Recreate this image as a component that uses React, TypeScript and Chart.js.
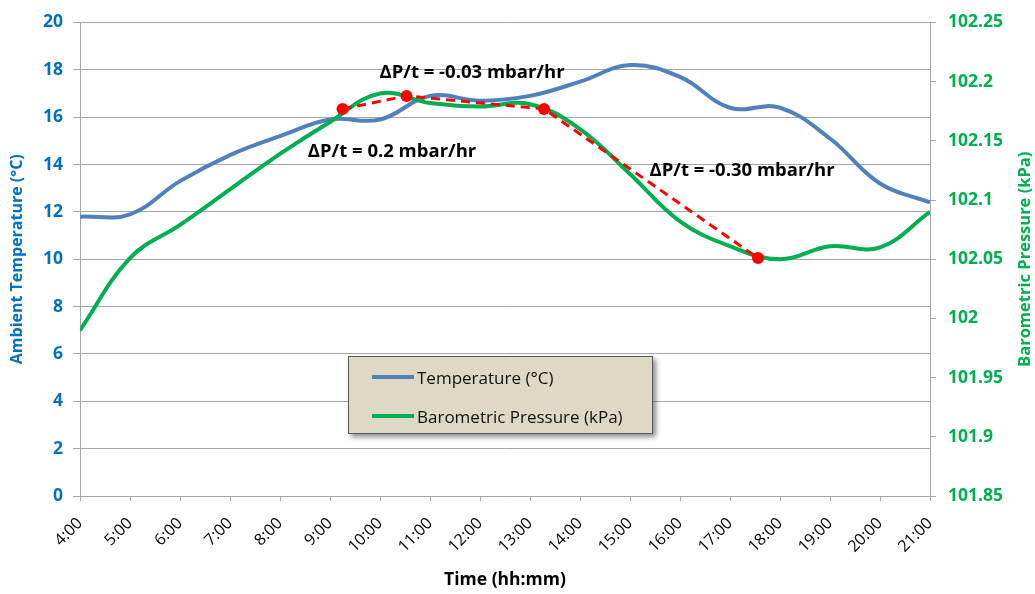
import React, { useEffect, useRef } from 'react';
import { Chart, registerables } from 'chart.js';

Chart.register(...registerables);

// Hourly readings
const hours = [4, 5, 6, 7, 8, 9, 10, 11, 12, 13, 14, 15, 16, 17, 18, 19, 20, 21];
const temperatureC = [11.8, 11.9, 13.3, 14.4, 15.2, 15.9, 15.9, 16.9, 16.7, 16.9, 17.5, 18.2, 17.7, 16.4, 16.4, 15.1, 13.2, 12.4];
const pressureKPa = [101.99, 102.051, 102.079, 102.109, 102.139, 102.166, 102.19, 102.182, 102.179, 102.181, 102.16, 102.122, 102.082, 102.061, 102.05, 102.061, 102.06, 102.09];

// Pressure trend segments (hour, kPa)
const trendHours = [9.25, 10.53, 13.28, 17.56];
const trendKPa = [102.177, 102.188, 102.177, 102.051];

// Rate labels, anchored in (hour, °C) coordinates
const rateLabels = ['ΔP/t = -0.03 mbar/hr', 'ΔP/t = 0.2 mbar/hr', 'ΔP/t = -0.30 mbar/hr'];
const rateLabelHours = [11.84, 10.24, 17.24];
const rateLabelTemps = [17.87, 14.53, 13.74];

const FONT = "'Open Sans', 'DejaVu Sans', sans-serif";
const BLUE = '#4f81bd';
const GREEN = '#00b050';
const AXIS_BLUE = '#0070c0';
const GRID = '#a6a6a6';

const overlayText = {
  id: 'overlayText',
  afterDatasetsDraw(chart: any) {
    const { ctx, scales } = chart;
    const x = scales.x;
    const y = scales.y;
    const y1 = scales.y1;
    ctx.save();
    ctx.font = `bold 18.5px ${FONT}`;
    ctx.fillStyle = '#000000';
    ctx.textAlign = 'center';
    ctx.textBaseline = 'middle';
    rateLabels.forEach((t, i) => {
      ctx.fillText(t, x.getPixelForValue(rateLabelHours[i]), y.getPixelForValue(rateLabelTemps[i]));
    });
    // right axis title, reading bottom-to-top
    ctx.translate(y1.right - 10, (chart.chartArea.top + chart.chartArea.bottom) / 2);
    ctx.rotate(-Math.PI / 2);
    ctx.font = `bold 16.5px ${FONT}`;
    ctx.fillStyle = GREEN;
    ctx.fillText('Barometric Pressure (kPa)', 0, 0);
    ctx.restore();
  },
};

export default function App() {
  const ref = useRef<HTMLCanvasElement>(null);

  useEffect(() => {
    if (!ref.current) return;
    const chart = new Chart(ref.current, {
      type: 'line',
      data: {
        datasets: [
          {
            label: 'Trend',
            data: trendHours.map((h, i) => ({ x: h, y: trendKPa[i] })),
            yAxisID: 'y1',
            borderColor: '#ff0000',
            backgroundColor: '#ff0000',
            borderWidth: 3,
            borderDash: [9, 6],
            pointRadius: 6,
            pointBorderWidth: 0,
            tension: 0,
            order: 0,
          },
          {
            label: 'Barometric Pressure (kPa)',
            data: hours.map((h, i) => ({ x: h, y: pressureKPa[i] })),
            yAxisID: 'y1',
            borderColor: GREEN,
            borderWidth: 4,
            pointRadius: 0,
            tension: 0.4,
            order: 1,
          },
          {
            label: 'Temperature (°C)',
            data: hours.map((h, i) => ({ x: h, y: temperatureC[i] })),
            yAxisID: 'y',
            borderColor: BLUE,
            borderWidth: 4,
            pointRadius: 0,
            tension: 0.4,
            order: 2,
          },
        ],
      },
      options: {
        responsive: false,
        animation: false,
        layout: { padding: { top: 17, left: 0, right: 0, bottom: 0 } },
        plugins: { legend: { display: false }, tooltip: { enabled: false } },
        scales: {
          x: {
            type: 'linear',
            min: 4,
            max: 21,
            afterFit: (s: any) => { s.height = 98; },
            ticks: {
              stepSize: 1,
              minRotation: 45,
              maxRotation: 45,
              padding: 13,
              color: '#000000',
              font: { family: FONT, size: 16 },
              callback: (v: any) => `${v}:00`,
            },
            grid: { drawOnChartArea: false, drawTicks: true, tickLength: 5, color: GRID },
            border: { color: GRID },
            title: {
              display: true,
              text: 'Time (hh:mm)',
              color: '#000000',
              font: { family: FONT, size: 17.5, weight: 'bold' },
              padding: { top: 0, bottom: 3 },
            },
          },
          y: {
            position: 'left',
            min: 0,
            max: 20,
            afterFit: (s: any) => { s.width = 80; },
            ticks: {
              stepSize: 2,
              padding: 10,
              color: AXIS_BLUE,
              font: { family: FONT, size: 17.5, weight: 'bold' },
            },
            grid: { color: GRID, tickLength: 7 },
            border: { color: GRID },
            title: {
              display: true,
              text: 'Ambient Temperature (°C)',
              color: AXIS_BLUE,
              font: { family: FONT, size: 16, weight: 'bold' },
              padding: { top: 8, bottom: 0 },
            },
          },
          y1: {
            position: 'right',
            min: 101.85,
            max: 102.25,
            afterFit: (s: any) => { s.width = 105; },
            ticks: {
              stepSize: 0.05,
              padding: 12,
              color: GREEN,
              font: { family: FONT, size: 17.5, weight: 'bold' },
              callback: (v: any) => String(parseFloat(Number(v).toFixed(2))),
            },
            grid: { drawOnChartArea: false, color: GRID, tickLength: 6 },
            border: { color: GRID },
          },
        },
      },
      plugins: [overlayText],
    } as any);
    return () => chart.destroy();
  }, []);

  const row = (color: string, text: string, top: number) => (
    <div style={{ position: 'absolute', left: 0, top, height: 26, display: 'flex', alignItems: 'center' }}>
      <div style={{ marginLeft: 23, width: 42, height: 4, background: color }} />
      <span style={{ marginLeft: 3, fontSize: 17, color: '#111111', whiteSpace: 'nowrap' }}>{text}</span>
    </div>
  );

  return (
    <div style={{ position: 'absolute', left: 0, top: 0, width: 1035, height: 594, background: '#ffffff', fontFamily: FONT }}>
      <canvas ref={ref} width={1035} height={594} />
      <div
        style={{
          position: 'absolute',
          left: 348,
          top: 356,
          width: 303,
          height: 76,
          background: '#ddd9c4',
          border: '1.5px solid #595959',
          boxShadow: '3px 3px 5px rgba(0,0,0,0.45)',
        }}
      >
        {row(BLUE, 'Temperature (°C)', 7)}
        {row(GREEN, 'Barometric Pressure (kPa)', 46)}
      </div>
    </div>
  );
}
